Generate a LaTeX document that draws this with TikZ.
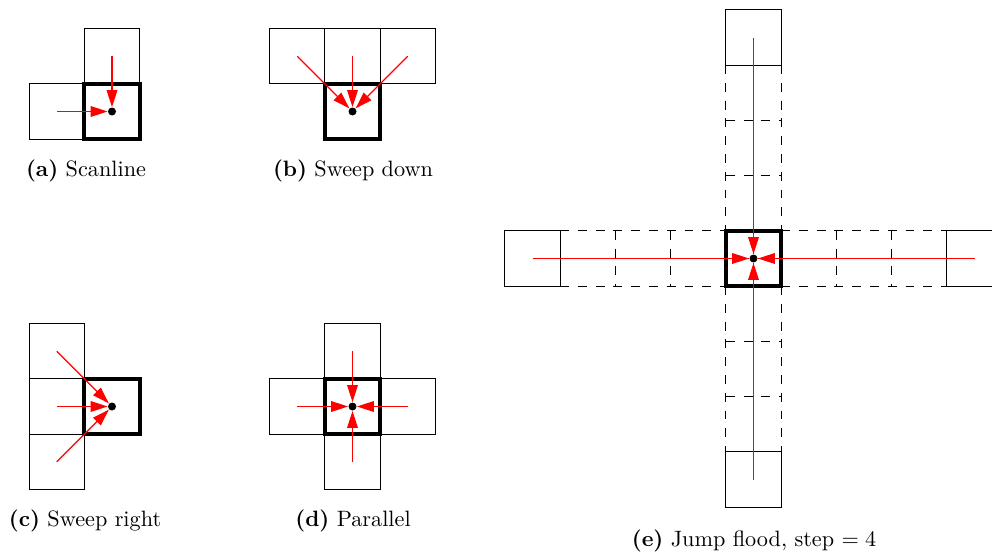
\documentclass[tikz,border=0pt]{standalone}
\usetikzlibrary{arrows.meta}
\begin{document}
\begin{tikzpicture}[x=0.45pt,y=-0.45pt,
  cell/.style={draw, line width=0.5pt, minimum size=24.86pt, inner sep=0pt, outer sep=0pt},
  ghost/.style={minimum size=24.86pt, inner sep=0pt, outer sep=0pt},
  cur/.style={draw, line width=1.8pt, minimum size=24.86pt, inner sep=0pt, outer sep=0pt},
  dot/.style={circle, fill=black, inner sep=0pt, minimum size=3.6pt},
  arr/.style={red, line width=0.5pt, -{Triangle[length=7.6pt,width=4.8pt]}},
  ray/.style={red, line width=0.4pt},
  dgrid/.style={line width=0.5pt, dash pattern=on 4pt off 4pt},
  captxt/.style={font=\normalsize, inner sep=1pt}
]
\clip (0,0) rectangle (992,552);
% ---------- (a) Scanline
\node[cell] (a-t) at (112,56.25) {};
\node[cell] (a-l) at (56.75,111.5) {};
\node[cur]  (a-c) at (112,111.5) {};
\node[dot]  (a-d) at (112,111.5) {};
\draw[arr] (a-t.center) -- (a-d);
\draw[arr] (a-l.center) -- (a-d);
\node[captxt] (cap-a) at (86,171) {\textbf{(a)}~Scanline};
% ---------- (b) Sweep down
\node[cell] (b-tl) at (297.25,56.25) {};
\node[cell] (b-t)  at (352.5,56.25) {};
\node[cell] (b-tr) at (407.75,56.25) {};
\node[cur]  (b-c)  at (352.5,111.5) {};
\node[dot]  (b-d)  at (352.5,111.5) {};
\draw[arr] (b-tl.center) -- (b-d);
\draw[arr] (b-t.center) -- (b-d);
\draw[arr] (b-tr.center) -- (b-d);
\node[captxt] (cap-b) at (353,171) {\textbf{(b)}~Sweep down};
% ---------- (c) Sweep right
\node[cell] (c-tl) at (56.75,351.25) {};
\node[cell] (c-l)  at (56.75,406.5) {};
\node[cell] (c-bl) at (56.75,461.75) {};
\node[cur]  (c-c)  at (112,406.5) {};
\node[dot]  (c-d)  at (112,406.5) {};
\draw[arr] (c-tl.center) -- (c-d);
\draw[arr] (c-l.center) -- (c-d);
\draw[arr] (c-bl.center) -- (c-d);
\node[captxt] (cap-c) at (85,521) {\textbf{(c)}~Sweep right};
% ---------- (d) Parallel
\node[cell] (d-t) at (352.5,351.25) {};
\node[cell] (d-l) at (297.25,406.5) {};
\node[cell] (d-r) at (407.75,406.5) {};
\node[cell] (d-b) at (352.5,461.75) {};
\node[cur]  (d-c) at (352.5,406.5) {};
\node[dot]  (d-d) at (352.5,406.5) {};
\draw[arr] (d-t.center) -- (d-d);
\draw[arr] (d-l.center) -- (d-d);
\draw[arr] (d-r.center) -- (d-d);
\draw[arr] (d-b.center) -- (d-d);
\node[captxt] (cap-d) at (353,521) {\textbf{(d)}~Parallel};
% ---------- (e) Jump flood
% dashed intermediate cells
\node[ghost] (e-u1) at (753.5,92.75) {};
\node[ghost] (e-u2) at (753.5,148) {};
\node[ghost] (e-u3) at (753.5,203.25) {};
\node[ghost] (e-d1) at (753.5,313.75) {};
\node[ghost] (e-d2) at (753.5,369) {};
\node[ghost] (e-d3) at (753.5,424.25) {};
\node[ghost] (e-l1) at (587.75,258.5) {};
\node[ghost] (e-l2) at (643,258.5) {};
\node[ghost] (e-l3) at (698.25,258.5) {};
\node[ghost] (e-r1) at (808.75,258.5) {};
\node[ghost] (e-r2) at (864,258.5) {};
\node[ghost] (e-r3) at (919.25,258.5) {};
% dashed grid
\draw[dgrid] (e-u1.north west) -- (e-u3.south west);
\draw[dgrid] (e-u1.north east) -- (e-u3.south east);
\draw[dgrid] (e-u1.south west) -- (e-u1.south east);
\draw[dgrid] (e-u2.south west) -- (e-u2.south east);
\draw[dgrid] (e-d1.north west) -- (e-d3.south west);
\draw[dgrid] (e-d1.north east) -- (e-d3.south east);
\draw[dgrid] (e-d1.south west) -- (e-d1.south east);
\draw[dgrid] (e-d2.south west) -- (e-d2.south east);
\draw[dgrid] (e-l1.north west) -- (e-l3.north east);
\draw[dgrid] (e-l1.south west) -- (e-l3.south east);
\draw[dgrid] (e-l1.north east) -- (e-l1.south east);
\draw[dgrid] (e-l2.north east) -- (e-l2.south east);
\draw[dgrid] (e-r1.north west) -- (e-r3.north east);
\draw[dgrid] (e-r1.south west) -- (e-r3.south east);
\draw[dgrid] (e-r1.north east) -- (e-r1.south east);
\draw[dgrid] (e-r2.north east) -- (e-r2.south east);
% solid cells
\node[cell] (e-t) at (753.5,37.5) {};
\node[cell] (e-b) at (753.5,479.5) {};
\node[cell] (e-l) at (532.5,258.5) {};
\node[cell] (e-r) at (974.5,258.5) {};
\node[cur]  (e-c) at (753.5,258.5) {};
\node[dot]  (e-d) at (753.5,258.5) {};
% rays and arrows
\draw[ray] (e-t.center) -- (e-d);
\draw[ray] (e-b.center) -- (e-d);
\draw[ray] (e-l.center) -- (e-d);
\draw[ray] (e-r.center) -- (e-d);
\draw[arr] (e-u3.center) -- (e-d);
\draw[arr] (e-d1.center) -- (e-d);
\draw[arr] (e-l3.center) -- (e-d);
\draw[arr] (e-r1.center) -- (e-d);
\node[captxt] (cap-e) at (754,541) {\textbf{(e)}~Jump flood, step $=4$};
\end{tikzpicture}
\end{document}
